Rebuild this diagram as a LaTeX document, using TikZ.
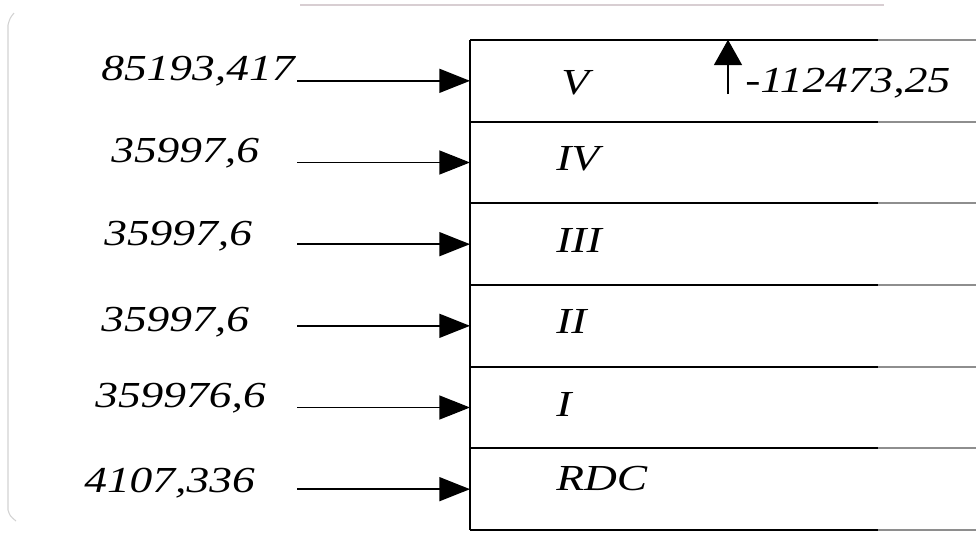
\documentclass[tikz,border=0pt]{standalone}
\usepackage{fontspec}
\setmainfont{Liberation Serif}
\usepackage{graphicx}
\usetikzlibrary{arrows.meta}
\newcommand\widetext[1]{\scalebox{1.24}[1]{#1}}
\definecolor{framegray}{HTML}{D2D2D2}
\definecolor{toprule}{HTML}{D8CED2}
\definecolor{tailgray}{HTML}{8E8E8E}
\begin{document}
\begin{tikzpicture}[x=0.75pt,y=-0.75pt,
  lbl/.style={font=\fontsize{27.5}{30}\selectfont\itshape, inner sep=0pt, anchor=base west},
  feed/.style={line width=1.1pt, -{Triangle[length=23pt,width=18pt]}},
  outflow/.style={line width=1.1pt, -{Triangle[length=19pt,width=21pt]}},
  rule/.style={line width=1.4pt},
  rowcell/.style={minimum width=379.5pt, minimum height=61.25pt, inner sep=0pt, anchor=west}]
\useasboundingbox (0,0) rectangle (976,557);

% faint outer frame
\draw[framegray, line width=0.8pt] (14,13) .. controls (10,18) .. (8,25) -- (8,510)
  .. controls (10,516) .. (16,521);
\draw[toprule, line width=0.8pt] (300,5) -- (884,5);

% levels of the column
\node[rowcell] (r5) at (470,80.83) {};
\node[rowcell] (r4) at (470,162.5) {};
\node[rowcell] (r3) at (470,244.17) {};
\node[rowcell] (r2) at (470,325.83) {};
\node[rowcell] (r1) at (470,407.5) {};
\node[rowcell] (r0) at (470,489.17) {};

% box rules: black body, grey tail towards the right
\foreach \yy in {40,121.67,203.33,285,366.67,448.33,530} {
  \draw[rule] (470,\yy) -- (878,\yy);
  \draw[rule, tailgray] (878,\yy) -- (976,\yy);
}
\draw[rule] (r5.north west) -- (r0.south west);

% level names
\node[lbl] (n5) at (561,94) {\widetext{V}};
\node[lbl] (n4) at (556,170) {\widetext{IV}};
\node[lbl] (n3) at (556,252) {\widetext{III}};
\node[lbl] (n2) at (556,333) {\widetext{II}};
\node[lbl] (n1) at (556,416) {\widetext{I}};
\node[lbl] (n0) at (556,490) {\widetext{RDC}};

% incoming values
\node[lbl] (v5) at (101,80) {\widetext{85193,417}};
\node[lbl] (v4) at (111,162) {\widetext{35997,6}};
\node[lbl] (v3) at (104,245) {\widetext{35997,6}};
\node[lbl] (v2) at (101,331) {\widetext{35997,6}};
\node[lbl] (v1) at (95,407) {\widetext{359976,6}};
\node[lbl] (v0) at (84,492) {\widetext{4107,336}};

\foreach \i in {0,...,5} {
  \coordinate (s\i) at (297,0 |- r\i.west);
  \draw[feed] (s\i) -- (r\i.west);
}

% outgoing value at the top
\coordinate (u0) at (728,94);
\draw[outflow] (u0) -- (u0 |- r5.north);
\node[lbl] (out) at (745,92) {\widetext{-112473,25}};
\end{tikzpicture}
\end{document}
